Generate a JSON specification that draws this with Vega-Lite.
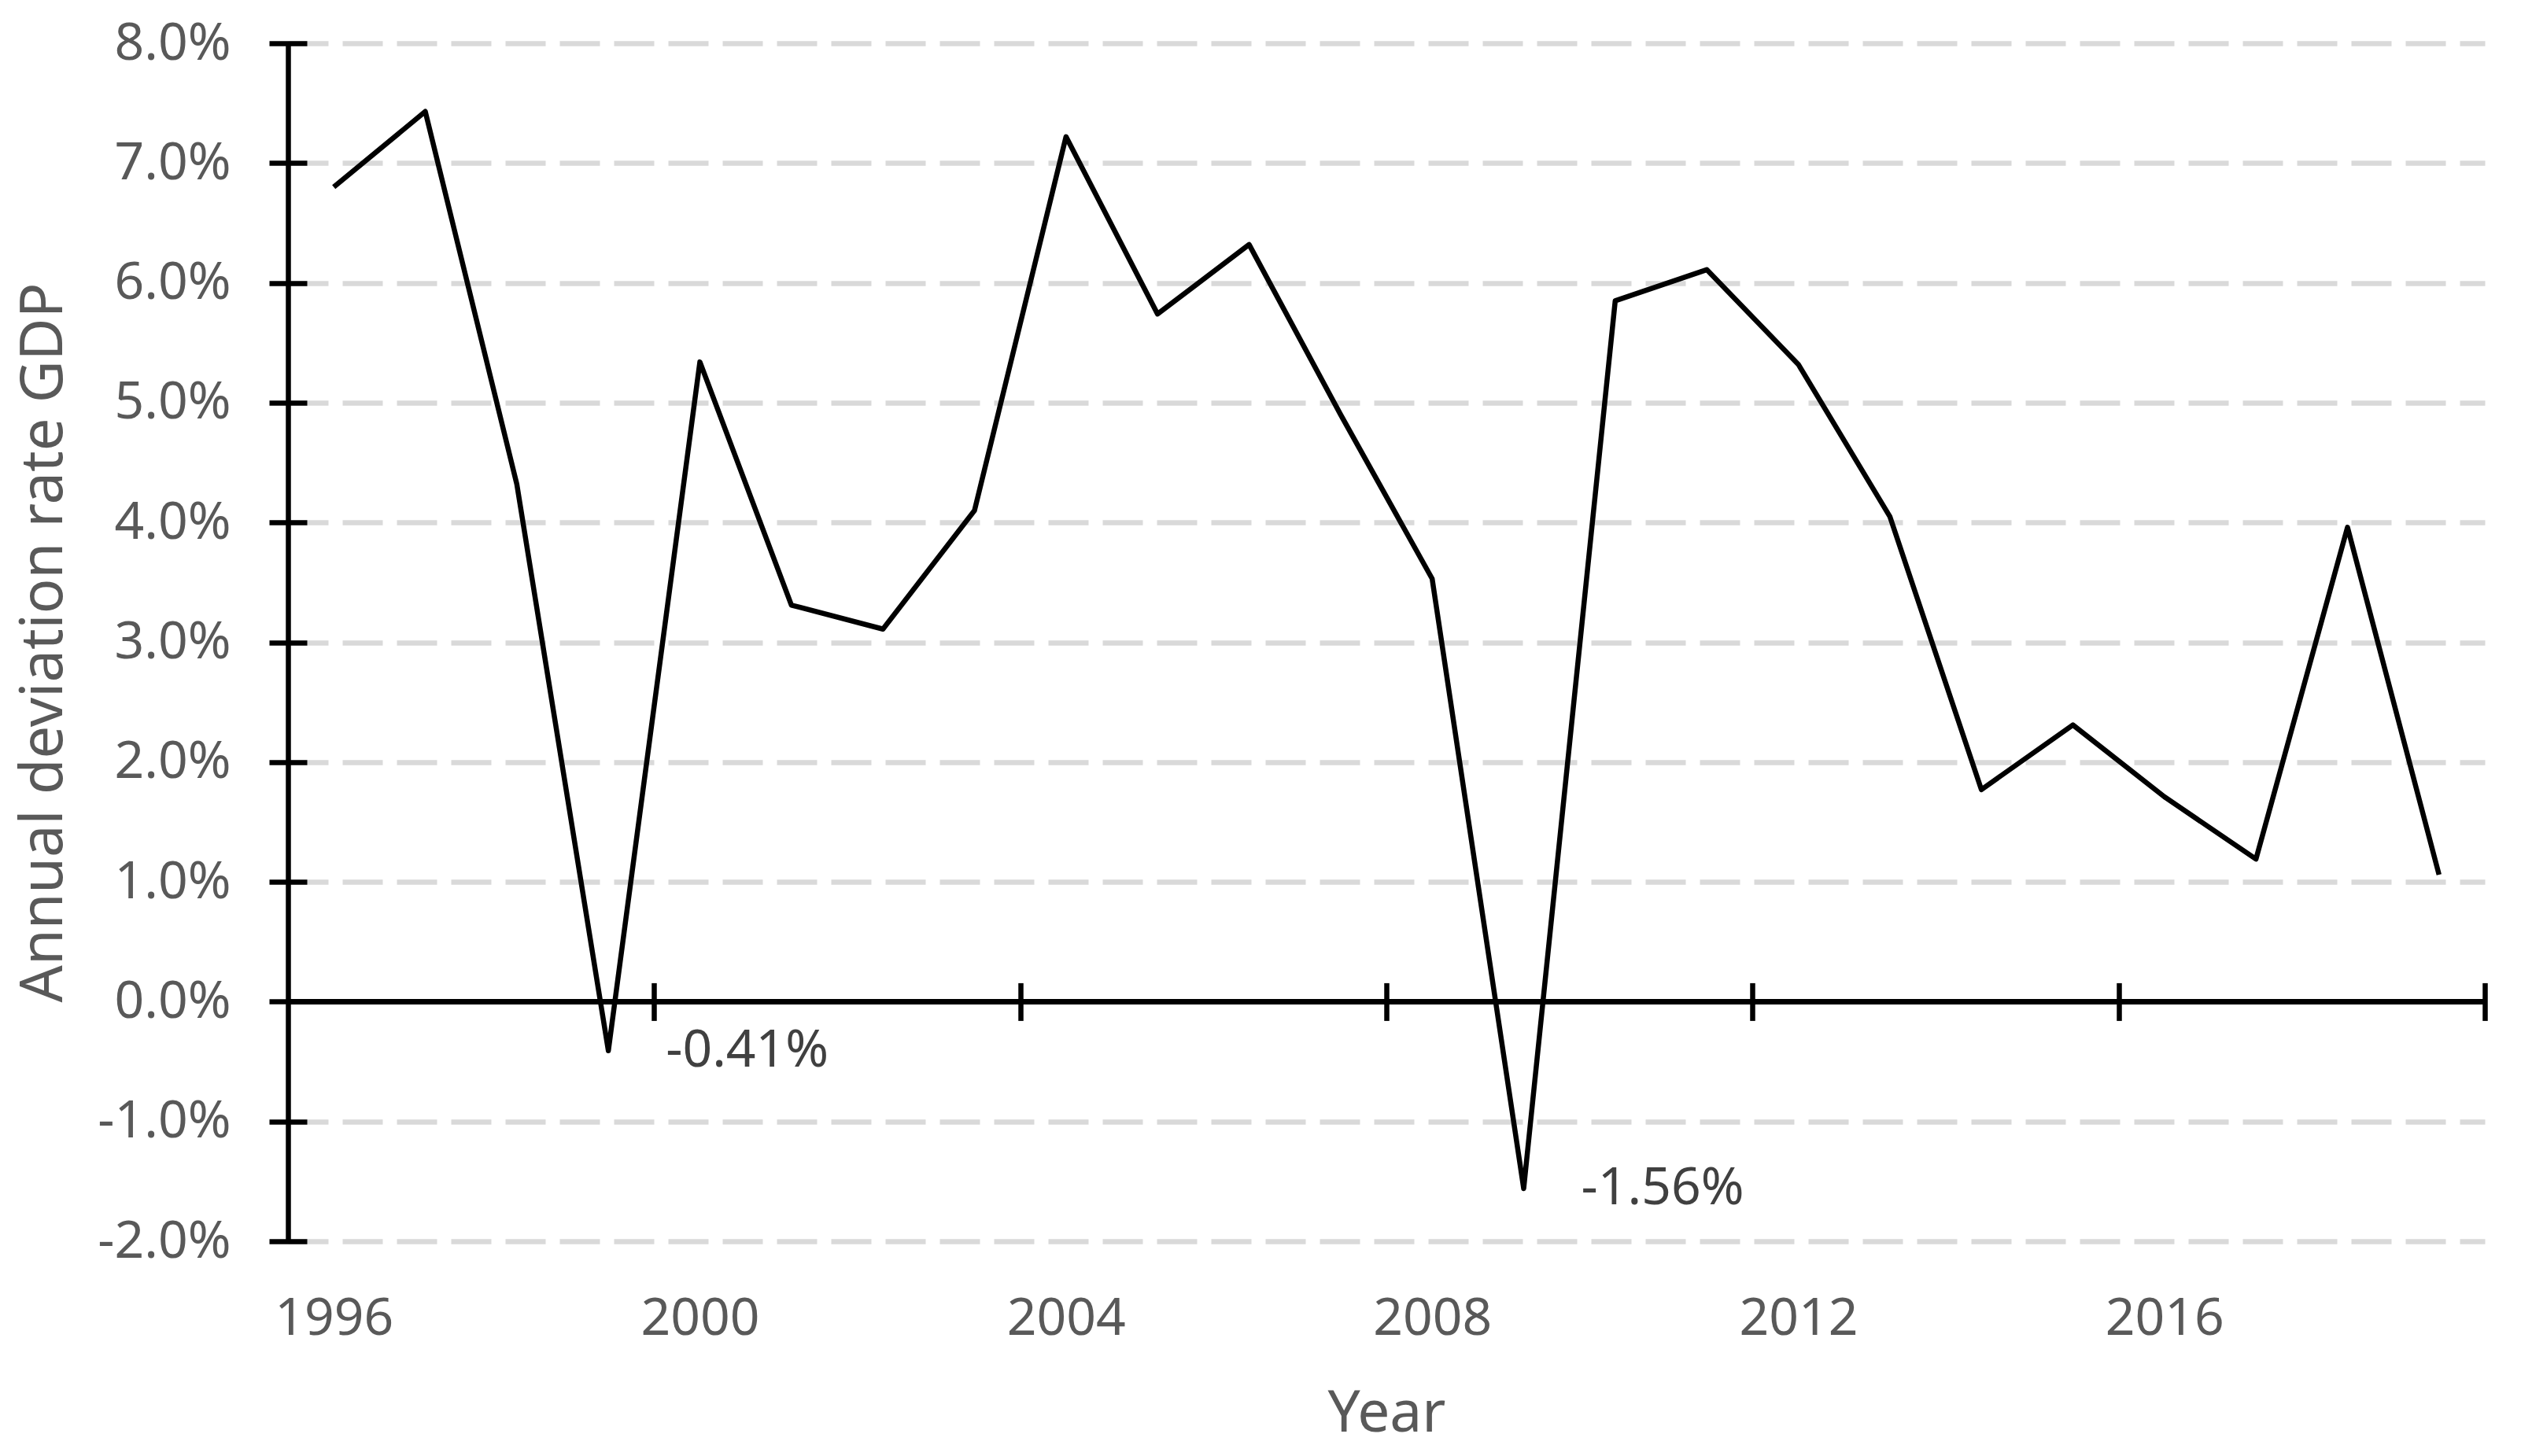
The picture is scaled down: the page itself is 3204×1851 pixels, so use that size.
{
  "$schema": "https://vega.github.io/schema/vega-lite/v6.json",
  "width": 2792,
  "height": 1523,
  "autosize": {"type": "none"},
  "padding": {"left": 366, "top": 55, "right": 46, "bottom": 273},
  "background": "white",
  "config": {"view": {"stroke": null}, "font": "Noto Sans"},
  "data": {
    "values": [
      {"year": 1996, "value": 0.0680},
      {"year": 1997, "value": 0.0743},
      {"year": 1998, "value": 0.0432},
      {"year": 1999, "value": -0.0041},
      {"year": 2000, "value": 0.0534},
      {"year": 2001, "value": 0.0331},
      {"year": 2002, "value": 0.0311},
      {"year": 2003, "value": 0.0410},
      {"year": 2004, "value": 0.0722},
      {"year": 2005, "value": 0.0574},
      {"year": 2006, "value": 0.0632},
      {"year": 2007, "value": 0.0490},
      {"year": 2008, "value": 0.0353},
      {"year": 2009, "value": -0.0156},
      {"year": 2010, "value": 0.0585},
      {"year": 2011, "value": 0.0611},
      {"year": 2012, "value": 0.0532},
      {"year": 2013, "value": 0.0405},
      {"year": 2014, "value": 0.0177},
      {"year": 2015, "value": 0.0231},
      {"year": 2016, "value": 0.0171},
      {"year": 2017, "value": 0.0119},
      {"year": 2018, "value": 0.0396},
      {"year": 2019, "value": 0.0106}
    ]
  },
  "resolve": {"axis": {"x": "independent", "y": "independent"}},
  "layer": [
    {
      "mark": {"type": "rule", "color": "black", "strokeWidth": 6.5},
      "encoding": {
        "y": {"datum": 0, "type": "quantitative", "scale": {"domain": [-0.02, 0.08], "nice": false, "zero": false}, "axis": null}
      }
    },
    {
      "mark": {"type": "line", "color": "black", "strokeWidth": 6.5, "strokeJoin": "round"},
      "encoding": {
        "x": {
          "field": "year", "type": "quantitative",
          "scale": {"domain": [1995.5, 2019.5], "nice": false, "zero": false},
          "axis": {
            "orient": "bottom",
            "values": [1996, 2000, 2004, 2008, 2012, 2016],
            "format": "d",
            "domain": false, "ticks": false, "grid": false,
            "labelPadding": 66, "labelFontSize": 66, "labelColor": "#595959", "labelFont": "Noto Sans",
            "labelFlush": false, "labelOverlap": false,
            "title": "Year", "titleFontSize": 73, "titleColor": "#595959", "titleFont": "Noto Sans",
            "titleFontWeight": "normal", "titlePadding": 52
          }
        },
        "y": {
          "field": "value", "type": "quantitative",
          "scale": {"domain": [-0.02, 0.08], "nice": false, "zero": false},
          "axis": {
            "orient": "left",
            "values": [-0.02, -0.01, 0, 0.01, 0.02, 0.03, 0.04, 0.05, 0.06, 0.07, 0.08],
            "labelExpr": "(datum.value < -0.0001 ? '-' : '') + format(abs(datum.value), '.1%')",
            "domain": true, "domainColor": "black", "domainWidth": 6.5,
            "ticks": false,
            "labelPadding": 73, "labelFontSize": 66, "labelColor": "#595959", "labelFont": "Noto Sans",
            "labelFlush": false, "labelOverlap": false,
            "grid": true, "gridColor": "#D9D9D9", "gridWidth": 6.5, "gridDash": [51, 18],
            "title": "Annual deviation rate GDP", "titleFontSize": 74, "titleColor": "#595959", "titleFont": "Noto Sans",
            "titleFontWeight": "normal", "titlePadding": 72
          }
        }
      }
    },
    {
      "data": {
        "values": [
          {"year": 1999, "value": -0.0041, "label": "-0.41%"},
          {"year": 2009, "value": -0.0156, "label": "-1.56%"}
        ]
      },
      "mark": {"type": "text", "align": "left", "baseline": "middle", "dx": 73, "fontSize": 66, "color": "#404040", "font": "Noto Sans"},
      "encoding": {
        "x": {
          "field": "year", "type": "quantitative",
          "scale": {"domain": [1995.5, 2019.5], "nice": false, "zero": false},
          "axis": {
            "orient": "bottom", "offset": -280.6,
            "values": [1999.5, 2003.5, 2007.5, 2011.5, 2015.5, 2019.5],
            "domain": false, "ticks": true, "tickSize": -48, "tickWidth": 6.5, "tickColor": "black",
            "labels": false, "grid": false, "title": null
          }
        },
        "y": {
          "field": "value", "type": "quantitative",
          "scale": {"domain": [-0.02, 0.08], "nice": false, "zero": false},
          "axis": {
            "orient": "left", "offset": 24,
            "values": [-0.02, -0.01, 0, 0.01, 0.02, 0.03, 0.04, 0.05, 0.06, 0.07, 0.08],
            "domain": false, "ticks": true, "tickSize": -48, "tickWidth": 6.5, "tickColor": "black",
            "labels": false, "grid": false, "title": null
          }
        },
        "text": {"field": "label"}
      }
    }
  ]
}
